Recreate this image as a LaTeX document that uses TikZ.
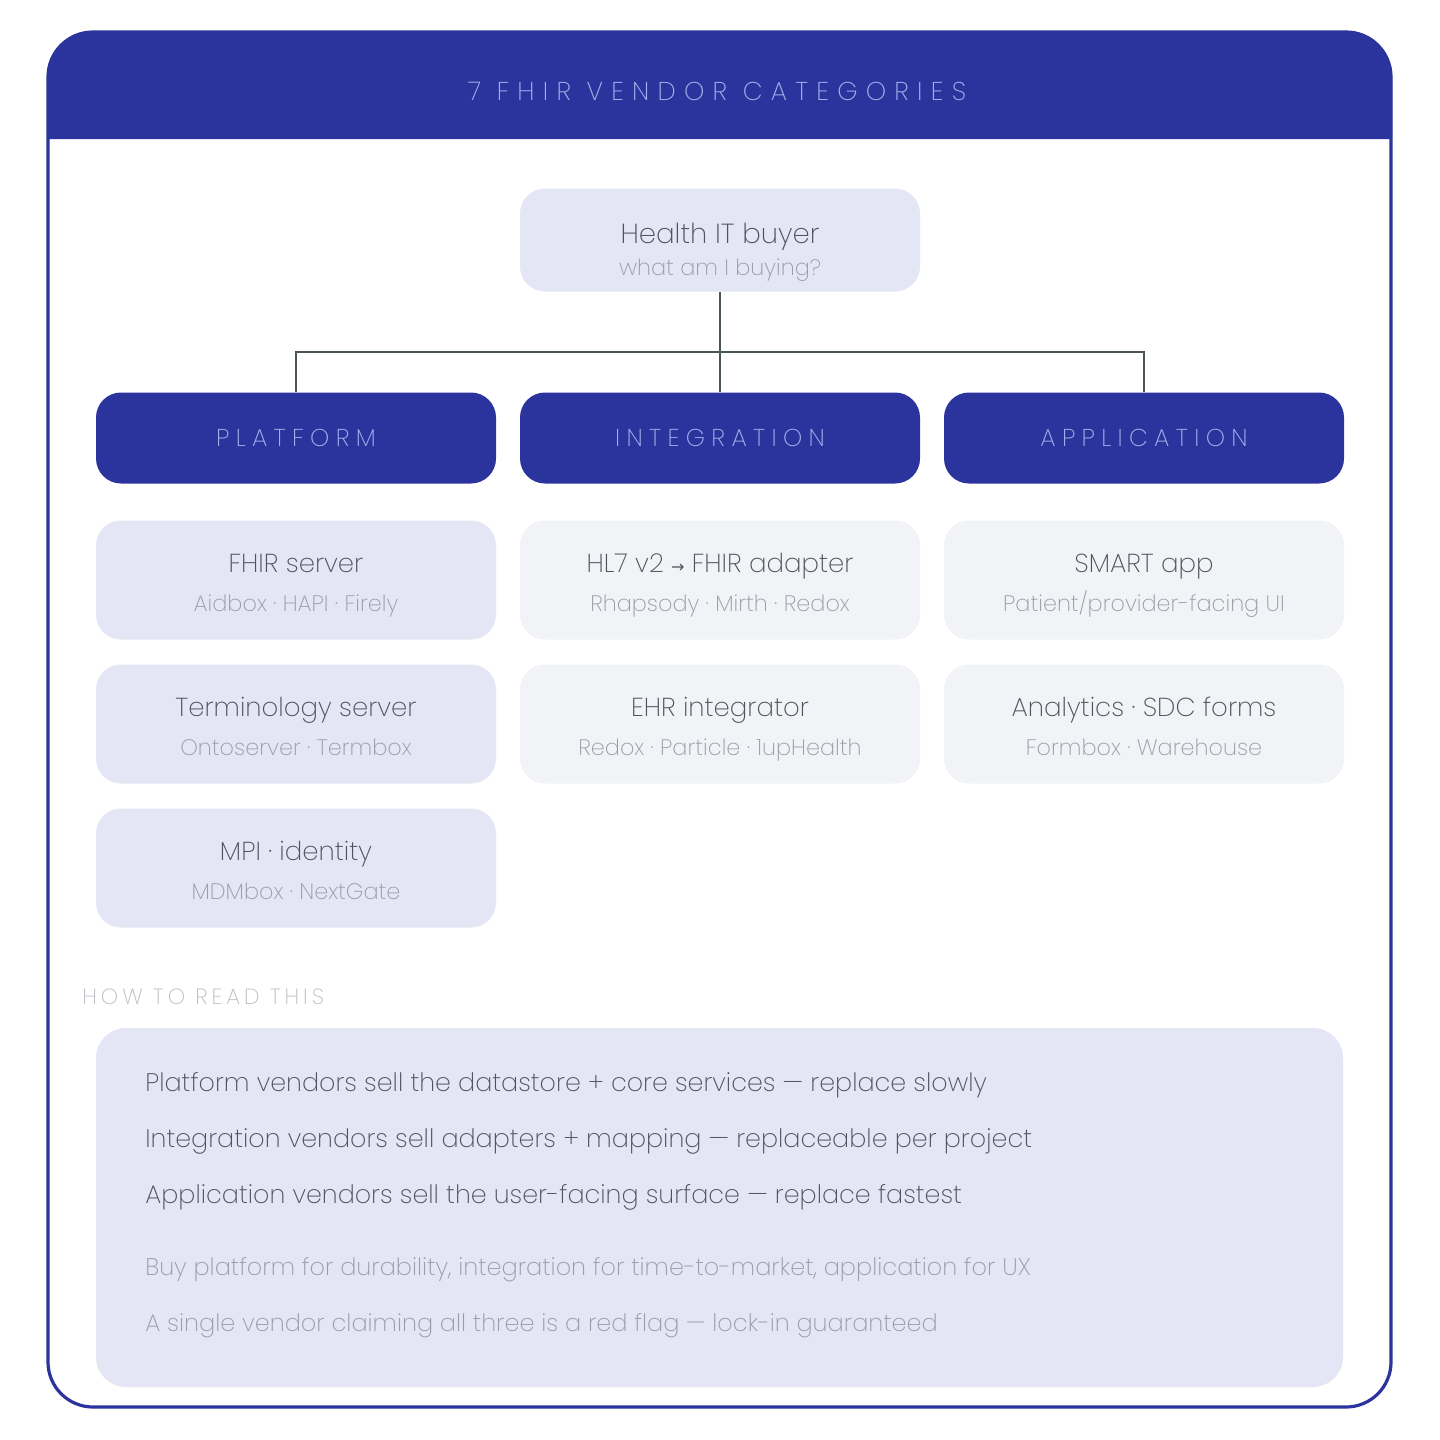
\documentclass[tikz,border=0pt]{standalone}
\usepackage{fontspec}
\setmainfont{Poppins ExtraLight}
\newfontfamily\spaced{Poppins ExtraLight}[LetterSpace=26]
\newfontfamily\titlefont{Poppins ExtraLight}[LetterSpace=32]
\newfontfamily\howfont{Poppins ExtraLight}[LetterSpace=18]
\newfontfamily\arrowfont{DejaVu Sans}
\definecolor{hdr}{HTML}{2B349C}
\definecolor{lav}{HTML}{E4E6F5}
\definecolor{lgray}{HTML}{F2F3F6}
\definecolor{conn}{HTML}{4A5558}
\definecolor{txtdark}{HTML}{4F535E}
\definecolor{txtlight}{HTML}{9A9CAB}
\definecolor{caplabel}{HTML}{A4AEEA}
\definecolor{howto}{HTML}{BDBEC4}
\tikzset{
  catbox/.style={fill=hdr, rounded corners=12.5pt, minimum width=200pt, minimum height=45.5pt, inner sep=0pt,
    text=caplabel, font=\spaced\fontsize{12.2}{14}\selectfont},
  itembox/.style={rounded corners=12.5pt, minimum width=200pt, minimum height=59.5pt, inner sep=0pt},
  ttl/.style={text=txtdark, font=\fontsize{13}{15}\selectfont, inner sep=0pt, anchor=base},
  sub/.style={text=txtlight, font=\fontsize{11.2}{13}\selectfont, inner sep=0pt, anchor=base},
  conline/.style={draw=conn, line width=1pt},
  bodyline/.style={text=txtdark, font=\fontsize{12.7}{15}\selectfont, inner sep=0pt, anchor=base west},
  noteline/.style={text=txtlight, font=\fontsize{12}{14}\selectfont, inner sep=0pt, anchor=base west},
}
\begin{document}
\begin{tikzpicture}[x=0.5pt,y=-0.5pt]
\useasboundingbox[fill=white] (0,0) rectangle (1440,1440);
% header band
\fill[hdr] (47,139) [rounded corners=22.5pt] -- (47,31) -- (1392,31) [sharp corners] -- (1392,139) -- cycle;
\draw[hdr, line width=1.6pt, rounded corners=22.5pt] (48,32) rectangle (1391,1407);
\node[text=caplabel, font=\titlefont\fontsize{12.9}{14}\selectfont, inner sep=0pt] (title) at (717,91) {7 FHIR VENDOR CATEGORIES};

% root
\node[fill=lav, rounded corners=12.5pt, minimum width=200pt, minimum height=51.5pt, inner sep=0pt] (root) at (720,240) {};
\node[ttl, font=\fontsize{13.8}{15}\selectfont] (roott) at (720,243) {Health IT buyer};
\node[sub] (roots) at (720,275) {what am I buying?};

% categories
\node[catbox] (plat) at (296,438) {PLATFORM};
\node[catbox] (integ) at (720,438) {INTEGRATION};
\node[catbox] (app) at (1144,438) {APPLICATION};

\coordinate (jn) at (720,352);
\draw[conline] (root.south) -- (integ.north);
\draw[conline] (plat.north) |- (jn) -| (app.north);

% platform items
\node[itembox, fill=lav] (p1) at (296,580) {};
\node[ttl] (p1t) at (296,572) {FHIR server};
\node[sub] (p1s) at (296,611) {Aidbox · HAPI · Firely};
\node[itembox, fill=lav] (p2) at (296,724) {};
\node[ttl] (p2t) at (296,716) {Terminology server};
\node[sub] (p2s) at (296,755) {Ontoserver · Termbox};
\node[itembox, fill=lav] (p3) at (296,868) {};
\node[ttl] (p3t) at (296,860) {MPI · identity};
\node[sub] (p3s) at (296,899) {MDMbox · NextGate};

% integration items
\node[itembox, fill=lgray] (i1) at (720,580) {};
\node[ttl] (i1t) at (720,572) {HL7 v2 {\arrowfont\fontsize{8}{10}\selectfont →} FHIR adapter};
\node[sub] (i1s) at (720,611) {Rhapsody · Mirth · Redox};
\node[itembox, fill=lgray] (i2) at (720,724) {};
\node[ttl] (i2t) at (720,716) {EHR integrator};
\node[sub] (i2s) at (720,755) {Redox · Particle · 1upHealth};

% application items
\node[itembox, fill=lgray] (a1) at (1144,580) {};
\node[ttl] (a1t) at (1144,572) {SMART app};
\node[sub] (a1s) at (1144,611) {Patient/provider-facing UI};
\node[itembox, fill=lgray] (a2) at (1144,724) {};
\node[ttl] (a2t) at (1144,716) {Analytics · SDC forms};
\node[sub] (a2s) at (1144,755) {Formbox · Warehouse};

% how to read
\node[text=howto, font=\howfont\fontsize{11}{12}\selectfont, inner sep=0pt, anchor=base west] (howto) at (82,1004) {HOW TO READ THIS};
\fill[lav, rounded corners=15pt] (96,1028) rectangle (1343,1387);
\node[bodyline] (l1) at (145,1091) {Platform vendors sell the datastore + core services — replace slowly};
\node[bodyline] (l2) at (145,1147) {Integration vendors sell adapters + mapping — replaceable per project};
\node[bodyline] (l3) at (145,1203) {Application vendors sell the user-facing surface — replace fastest};
\node[noteline] (l4) at (145,1275) {Buy platform for durability, integration for time-to-market, application for UX};
\node[noteline] (l5) at (145,1331) {A single vendor claiming all three is a red flag — lock-in guaranteed};
\end{tikzpicture}
\end{document}
